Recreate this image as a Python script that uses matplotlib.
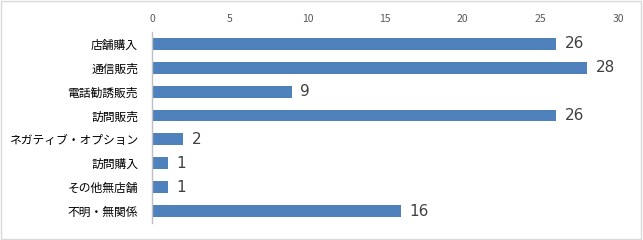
import matplotlib
matplotlib.use('Agg')
import matplotlib.pyplot as plt
from matplotlib.patches import Rectangle

plt.rcParams['font.family'] = ['Noto Sans CJK JP', 'DejaVu Sans']

categories = ['店舗購入', '通信販売', '電話勧誘販売', '訪問販売',
              'ネガティブ・オプション', '訪問購入', 'その他無店舗', '不明・無関係']
values = [26, 28, 9, 26, 2, 1, 1, 16]
xticks = [0, 5, 10, 15, 20, 25, 30]

fig = plt.figure(figsize=(6.43, 2.4), dpi=100)
ax = fig.add_axes([0.2364, 0.071, 0.7248, 0.796])

ax.barh(range(len(categories)), values, height=0.5, color='#4F81BD')
ax.set_ylim(len(categories) - 0.5, -0.5)
ax.set_xlim(0, 30)
ax.set_yticks(range(len(categories)))
ax.set_yticklabels(categories, fontsize=8.5, color='#000000')
ax.set_xticks(xticks)
ax.xaxis.tick_top()
ax.tick_params(axis='x', length=0, labelsize=7.5, colors='#595959', pad=6)
ax.tick_params(axis='y', length=0, pad=10)

for s in ['top', 'right', 'bottom']:
    ax.spines[s].set_visible(False)
ax.spines['left'].set_color('#BFBFBF')
ax.spines['left'].set_linewidth(1)

for i, v in enumerate(values):
    ax.text(v + 0.55, i, str(v), va='center', ha='left', fontsize=11,
            color='#404040', family=['DejaVu Sans'])

fig.patches.append(Rectangle((0.002, 0.004), 0.995, 0.99, transform=fig.transFigure,
                             fill=False, edgecolor='#D9D9D9', linewidth=1))

fig.savefig('out.png', dpi=100)
